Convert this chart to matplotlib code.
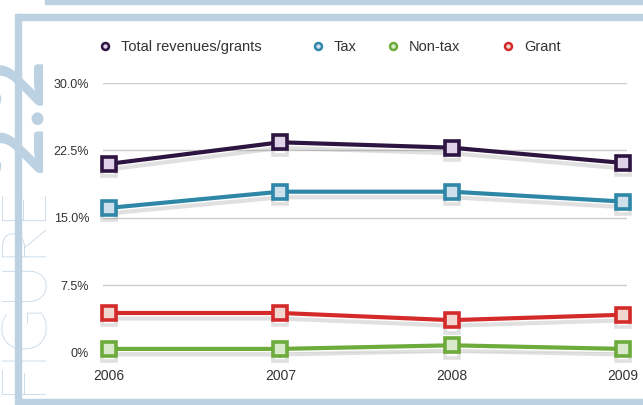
import matplotlib
matplotlib.use('Agg')
import matplotlib.pyplot as plt
import matplotlib.patheffects as pe
from matplotlib.patches import Rectangle
from matplotlib.lines import Line2D

plt.rcParams['font.family'] = ['Liberation Sans', 'DejaVu Sans']

years = [2006, 2007, 2008, 2009]
total = [21.0, 23.4, 22.8, 21.1]
tax = [16.1, 17.9, 17.9, 16.8]
non_tax = [0.4, 0.4, 0.8, 0.4]
grant = [4.4, 4.4, 3.6, 4.2]

series_names = ['Total revenues/grants', 'Tax', 'Non-tax', 'Grant']
series_vals = [total, tax, non_tax, grant]
line_cols = ['#2e1440', '#2f87a8', '#6cab3c', '#d42a2a']
face_cols = ['#ddd2e8', '#cfe0ec', '#d8e9cc', '#f0d6ce']

y_ticks = [0, 7.5, 15, 22.5, 30]
y_labels = ['0%', '7.5%', '15.0%', '22.5%', '30.0%']

frame_col = '#bcd2e3'
W, H = 643, 405

fig = plt.figure(figsize=(6.43, 4.05), dpi=100)
fig.patch.set_facecolor('white')

# page frame
for (x0, y0, w, h) in [(45, 0, 598, 4), (17, 14, 626, 6), (15, 14, 6, 391), (20, 399, 623, 6)]:
    fig.patches.append(Rectangle((x0 / W, 1 - (y0 + h) / H), w / W, h / H,
                                 transform=fig.transFigure, color=frame_col, zorder=0))

# vertical "FIGURE 2.2" tag, baseline on the right, reading bottom to top
fig.text(40 / W, 1 - 394 / H, 'FIGURE', rotation=90, rotation_mode='anchor',
         ha='left', va='baseline', fontsize=44, color=frame_col,
         family=['Lato', 'DejaVu Sans'], fontweight='light')
fig.text(41 / W, 1 - 172 / H, '2.2', rotation=90, rotation_mode='anchor',
         ha='left', va='baseline', fontsize=60, color=frame_col,
         family=['Lato', 'DejaVu Sans'], fontweight='bold')

ax = fig.add_axes([103 / W, 52.5 / H, 524 / W, 269.5 / H])
ax.set_xlim(2005.965, 2009.023)
ax.set_ylim(0, 30)

shadow = [pe.SimpleLineShadow(offset=(0, -4), shadow_color='#555555', alpha=0.18), pe.Normal()]
for name, vals, lc, fc in zip(series_names, series_vals, line_cols, face_cols):
    ax.plot(years, vals, color=lc, lw=3, marker='s', markersize=10,
            markerfacecolor=fc, markeredgecolor=lc, markeredgewidth=2.6,
            label=name, clip_on=False, zorder=3, path_effects=shadow)

ax.set_yticks(y_ticks)
ax.set_yticklabels(y_labels)
ax.set_xticks(years)
ax.set_xticklabels([str(y) for y in years])
ax.grid(axis='y', color='#cccccc', lw=1)
ax.tick_params(length=0, colors='#333333')
ax.tick_params(axis='y', pad=10, labelsize=9)
ax.tick_params(axis='x', pad=12, labelsize=10)
for s in ax.spines.values():
    s.set_visible(False)

# legend entries placed one by one along the top
leg_x = [105, 318, 393, 508]
fs = 10.5
for name, lc, fc, mx in zip(series_names, line_cols, face_cols, leg_x):
    h = Line2D([], [], ls='none', marker='o', markersize=5, markeredgewidth=1.8,
               markeredgecolor=lc, markerfacecolor=fc)
    half = 0.5 * fs * 100 / 72
    fig.legend([h], [name], loc='center left', bbox_to_anchor=((mx - half) / W, 1 - 47 / H),
               frameon=False, fontsize=fs, handlelength=1, handletextpad=0.6,
               borderpad=0, borderaxespad=0, labelcolor='#333333')

fig.savefig('out.png', dpi=100)
